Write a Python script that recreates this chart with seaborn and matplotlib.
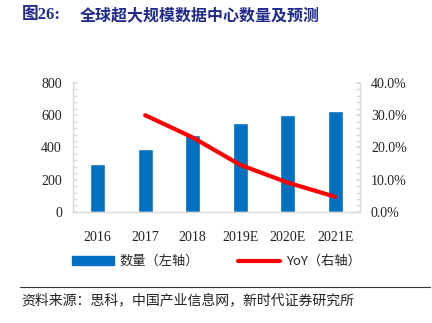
import matplotlib
matplotlib.use("Agg")
import matplotlib.pyplot as plt
import seaborn as sns
import pandas as pd
import numpy as np
from matplotlib.ticker import MultipleLocator, FuncFormatter
from matplotlib.patches import Patch
from matplotlib.lines import Line2D

years = ["2016", "2017", "2018", "2019E", "2020E", "2021E"]
counts = [300, 390, 480, 550, 600, 628]
yoy_years = ["2017", "2018", "2019E", "2020E", "2021E"]
yoy = [0.30, 0.231, 0.146, 0.091, 0.047]

title_num = "图26:"
title_text = "全球超大规模数据中心数量及预测"
legend_labels = ["数量（左轴）", "YoY（右轴）"]
source_text = "资料来源：思科，中国产业信息网，新时代证券研究所"

sns.set_theme(style="white")
plt.rcParams["font.family"] = ["Liberation Serif", "Noto Sans CJK SC", "DejaVu Sans"]

fig = plt.figure(figsize=(4.32, 3.23), dpi=100)
ax = fig.add_axes([0.169, 0.344, 0.664, 0.399])

bar_df = pd.DataFrame({"year": years, "count": counts})
sns.barplot(data=bar_df, x="year", y="count", color="#0070C0", saturation=1,
            width=0.32, ax=ax, order=years)
ax.set_xlim(-0.52, 5.52)
ax.set_ylim(0, 800)
ax.yaxis.set_major_locator(MultipleLocator(200))
ax.yaxis.set_minor_locator(MultipleLocator(40))
ax.set_xlabel("")
ax.set_ylabel("")

ax2 = ax.twinx()
line_df = pd.DataFrame({"pos": [years.index(y) for y in yoy_years], "yoy": yoy})
sns.lineplot(data=line_df, x="pos", y="yoy", color="#FF0000", linewidth=3, ax=ax2)
ax2.set_ylim(0, 0.40)
ax2.yaxis.set_major_locator(MultipleLocator(0.10))
ax2.yaxis.set_minor_locator(MultipleLocator(0.02))
ax2.yaxis.set_major_formatter(FuncFormatter(lambda v, p: f"{v*100:.1f}%"))
ax2.set_xlabel("")
ax2.set_ylabel("")
ax2.set_xlim(-0.52, 5.52)

for a in (ax, ax2):
    for s in a.spines.values():
        s.set_color("#D9D9D9")
        s.set_linewidth(1)
    a.spines["top"].set_visible(False)

ax.spines["right"].set_visible(False)
ax2.spines["left"].set_visible(False)
ax2.spines["bottom"].set_visible(False)

ax.tick_params(axis="y", which="both", direction="in", color="#D9D9D9", length=3,
               labelsize=10, pad=8, left=True, labelcolor="#222222")
ax.tick_params(axis="x", bottom=False, labelsize=10, pad=8, labelcolor="#222222")
ax2.tick_params(axis="y", which="both", direction="in", color="#D9D9D9", length=3,
                labelsize=10, pad=8, right=True, labelcolor="#222222")

handles = [Patch(color="#0070C0"), Line2D([0], [0], color="#FF0000", lw=3)]
fig.legend(handles, legend_labels, loc="center", bbox_to_anchor=(0.5, 0.19),
           ncol=2, frameon=False, prop={"family": ["Noto Sans CJK SC"], "size": 9.5},
           handlelength=3.2, handleheight=0.6, columnspacing=3.0, handletextpad=0.4)

fig.text(0.05, 0.953, title_num, fontsize=12, fontweight="bold", color="#1F2A8A",
         va="center", family=["Liberation Serif", "Noto Sans CJK SC"])
fig.text(0.185, 0.953, title_text, fontsize=11.5, fontweight="bold", color="#1F2A8A",
         va="center", family=["Noto Sans CJK SC"])

fig.add_artist(Line2D([0.046, 0.995], [0.111, 0.111], color="#333333", lw=0.8,
                      transform=fig.transFigure))
fig.text(0.05, 0.07, source_text, fontsize=10, color="#222222", va="center",
         family=["Noto Sans CJK SC"])

fig.savefig("out.png", dpi=100)
